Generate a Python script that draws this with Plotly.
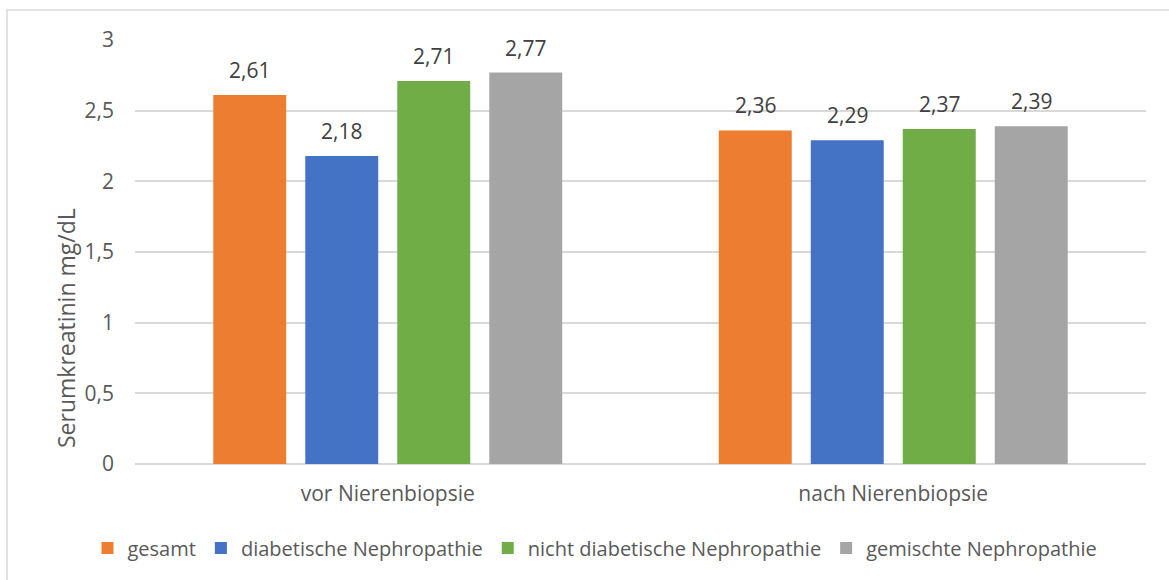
import plotly.graph_objects as go

# Serum creatinine before and after kidney biopsy, by patient group
categories = ["vor Nierenbiopsie", "nach Nierenbiopsie"]
series_names = ["gesamt", "diabetische Nephropathie",
                "nicht diabetische Nephropathie", "gemischte Nephropathie"]
gesamt = [2.61, 2.36]
diabetisch = [2.18, 2.29]
nicht_diabetisch = [2.71, 2.37]
gemischt = [2.77, 2.39]
y_ticks = [0, 0.5, 1, 1.5, 2, 2.5, 3]

series_values = [gesamt, diabetisch, nicht_diabetisch, gemischt]
colors = ["#ED7D31", "#4472C4", "#70AD47", "#A5A5A5"]

W, H = 1169, 580
ML, MR, MT, MB = 135, 23, 40, 116
BARGAP = 0.272
BARGROUPGAP = 0.207
FONT = "Open Sans"
FS = 21
TXT = "#595959"

plot_w = W - ML - MR
plot_h = H - MT - MB
slot_px = plot_w / len(categories) * (1 - BARGAP) / len(series_values)


def fmt(v):
    return f"{v:.2f}".replace(".", ",")


fig = go.Figure()
annotations = []
for i, (name, vals, col) in enumerate(zip(series_names, series_values, colors)):
    fig.add_trace(go.Bar(
        x=categories, y=vals, name=name,
        marker=dict(color=col, line=dict(width=0)),
    ))
    offset = (i - (len(series_values) - 1) / 2) * slot_px
    for cat, v in zip(categories, vals):
        annotations.append(dict(
            x=cat, y=v, xref="x", yref="y", text=fmt(v), showarrow=False,
            xshift=offset, yshift=9, yanchor="bottom", xanchor="center",
            font=dict(family=FONT, size=FS, color="#404040"),
        ))

# vertical axis title
annotations.append(dict(
    x=(66 - ML) / plot_w, y=(H - MB - 328) / plot_h, xref="paper", yref="paper",
    text="Serumkreatinin mg/dL", textangle=-90, showarrow=False,
    xanchor="center", yanchor="middle",
    font=dict(family=FONT, size=23, color=TXT),
))

# outer chart frame
shapes = [dict(
    type="rect", xref="paper", yref="paper",
    x0=(7 - ML) / plot_w, x1=(W + 10 - ML) / plot_w,
    y0=(H - MB - (H + 10)) / plot_h, y1=(H - MB - 10) / plot_h,
    line=dict(color="#d9d9d9", width=1.5), fillcolor="rgba(0,0,0,0)", layer="below",
)]

fig.update_layout(
    width=W, height=H,
    margin=dict(l=ML, r=MR, t=MT, b=MB, pad=0),
    paper_bgcolor="white", plot_bgcolor="white",
    barmode="group", bargap=BARGAP, bargroupgap=BARGROUPGAP,
    separators=",.",
    font=dict(family=FONT, size=FS, color=TXT),
    annotations=annotations, shapes=shapes,
    legend=dict(
        orientation="h", x=(595 - ML) / plot_w, xanchor="center",
        y=(H - MB - 548) / plot_h, yanchor="middle",
        font=dict(family=FONT, size=20, color=TXT),
        itemsizing="constant", traceorder="normal",
    ),
    xaxis=dict(
        showgrid=False, showline=False, ticks="", zeroline=False,
        tickfont=dict(family=FONT, size=FS, color=TXT),
        ticklabelstandoff=15,
    ),
    yaxis=dict(
        range=[0, 3], tickvals=y_ticks, showgrid=True, gridcolor="#d9d9d9",
        gridwidth=1.5, zeroline=True, zerolinecolor="#d9d9d9", zerolinewidth=1.5,
        showline=False, ticks="", ticklabelstandoff=20,
        tickfont=dict(family=FONT, size=FS, color=TXT),
    ),
)

fig.write_html("out.html")
